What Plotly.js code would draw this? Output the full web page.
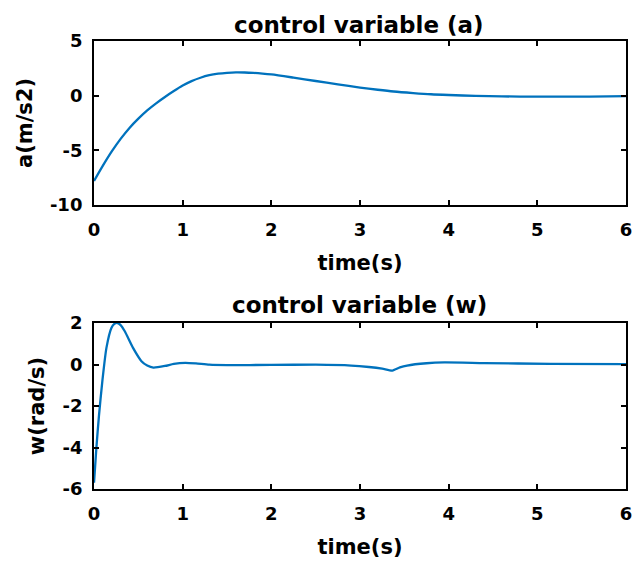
<!DOCTYPE html>
<html>
<head>
<meta charset="utf-8">
<script src="https://cdn.plot.ly/plotly-3.0.1.min.js"></script>
<style>html,body{margin:0;padding:0;background:#fff;}#chart{width:634px;height:563px;}</style>
</head>
<body>
<div id="chart"></div>
<script>
// Top panel: control variable (a)
var timeA = [0, 0.1, 0.2, 0.3, 0.4, 0.5, 0.6, 0.7, 0.8, 0.9, 1.0, 1.1, 1.2, 1.3, 1.4, 1.5, 1.6, 1.7, 1.8, 1.9, 2.0, 2.25, 2.5, 2.75, 3.0, 3.2, 3.38, 3.6, 3.8, 4.0, 4.3, 4.6, 5.0, 5.4, 5.8, 6.0];
var accel = [-7.8, -6.4, -5.1, -3.95, -2.95, -2.1, -1.35, -0.7, -0.12, 0.42, 0.92, 1.33, 1.64, 1.87, 2.01, 2.09, 2.13, 2.12, 2.08, 2.02, 1.94, 1.65, 1.34, 1.03, 0.74, 0.54, 0.38, 0.24, 0.13, 0.06, -0.02, -0.07, -0.09, -0.09, -0.07, -0.05];
// Bottom panel: control variable (w)
var timeW = [0, 0.026, 0.056, 0.094, 0.14, 0.197, 0.23, 0.264, 0.3, 0.347, 0.44, 0.535, 0.6, 0.67, 0.8, 0.9, 1.03, 1.15, 1.3, 1.5, 2.0, 2.5, 2.9, 3.1, 3.25, 3.365, 3.45, 3.53, 3.75, 3.95, 4.4, 5.15, 6.0];
var omega = [-5.7, -4.05, -2.45, -0.8, 0.8, 1.77, 1.96, 2.0, 1.9, 1.6, 0.8, 0.16, -0.05, -0.15, -0.07, 0.03, 0.08, 0.05, -0.01, -0.03, -0.02, -0.01, -0.05, -0.12, -0.2, -0.29, -0.14, -0.05, 0.06, 0.1, 0.07, 0.03, 0.02];
var xTicks = [0, 1, 2, 3, 4, 5, 6];
var yTicksA = [-10, -5, 0, 5];
var yTicksW = [-6, -4, -2, 0, 2];

var lineColor = '#0072BD';
var fontFam = 'DejaVu Sans, Liberation Sans, Arial, sans-serif';
function axisBase() {
  return {
    showgrid: false, zeroline: false, showline: true, linecolor: '#000', linewidth: 2,
    mirror: 'ticks', ticks: 'inside', ticklen: 5, tickwidth: 2, tickcolor: '#000',
    tickfont: {family: fontFam, size: 18, color: '#000', weight: 'bold'},
    fixedrange: true
  };
}
var titleFont = {family: fontFam, size: 21, color: '#000', weight: 'bold'};
var xa = Object.assign(axisBase(), {domain: [0.1483, 0.9874], range: [0, 6], tickvals: xTicks, ticktext: xTicks.map(String), anchor: 'y', ticklabelstandoff: 7,
  title: {text: 'time(s)', font: titleFont, standoff: 17}});
var ya = Object.assign(axisBase(), {domain: [0.6359, 0.9272], range: [-10, 5], tickvals: yTicksA, ticktext: yTicksA.map(String), anchor: 'x', ticklabelstandoff: 6,
  title: {text: 'a(m/s2)', font: titleFont, standoff: 12}});
var xa2 = Object.assign(axisBase(), {domain: [0.1483, 0.9874], range: [0, 6], tickvals: xTicks, ticktext: xTicks.map(String), anchor: 'y2', ticklabelstandoff: 7,
  title: {text: 'time(s)', font: titleFont, standoff: 17}});
var ya2 = Object.assign(axisBase(), {domain: [0.1314, 0.4263], range: [-6, 2], tickvals: yTicksW, ticktext: yTicksW.map(String), anchor: 'x2', ticklabelstandoff: 6,
  title: {text: 'w(rad/s)', font: titleFont, standoff: 12}});

var data = [
  {x: timeA, y: accel, xaxis: 'x', yaxis: 'y', type: 'scatter', mode: 'lines', line: {color: lineColor, width: 2.3, shape: 'spline', smoothing: 0.8}, hoverinfo: 'none'},
  {x: timeW, y: omega, xaxis: 'x2', yaxis: 'y2', type: 'scatter', mode: 'lines', line: {color: lineColor, width: 2.3, shape: 'spline', smoothing: 0.6}, hoverinfo: 'none'}
];
var layout = {
  width: 634, height: 563, margin: {l: 0, r: 0, t: 0, b: 0},
  paper_bgcolor: '#fff', plot_bgcolor: '#fff', showlegend: false,
  xaxis: xa, yaxis: ya, xaxis2: xa2, yaxis2: ya2,
  annotations: [
    {text: 'control variable (a)', xref: 'paper', yref: 'paper', x: 0.567, y: 0.9561, xanchor: 'center', yanchor: 'middle', showarrow: false,
     font: {family: fontFam, size: 23, color: '#000', weight: 'bold'}},
    {text: 'control variable (w)', xref: 'paper', yref: 'paper', x: 0.567, y: 0.4588, xanchor: 'center', yanchor: 'middle', showarrow: false,
     font: {family: fontFam, size: 23, color: '#000', weight: 'bold'}}
  ]
};
Plotly.newPlot('chart', data, layout, {staticPlot: true, displayModeBar: false});
</script>
</body>
</html>
